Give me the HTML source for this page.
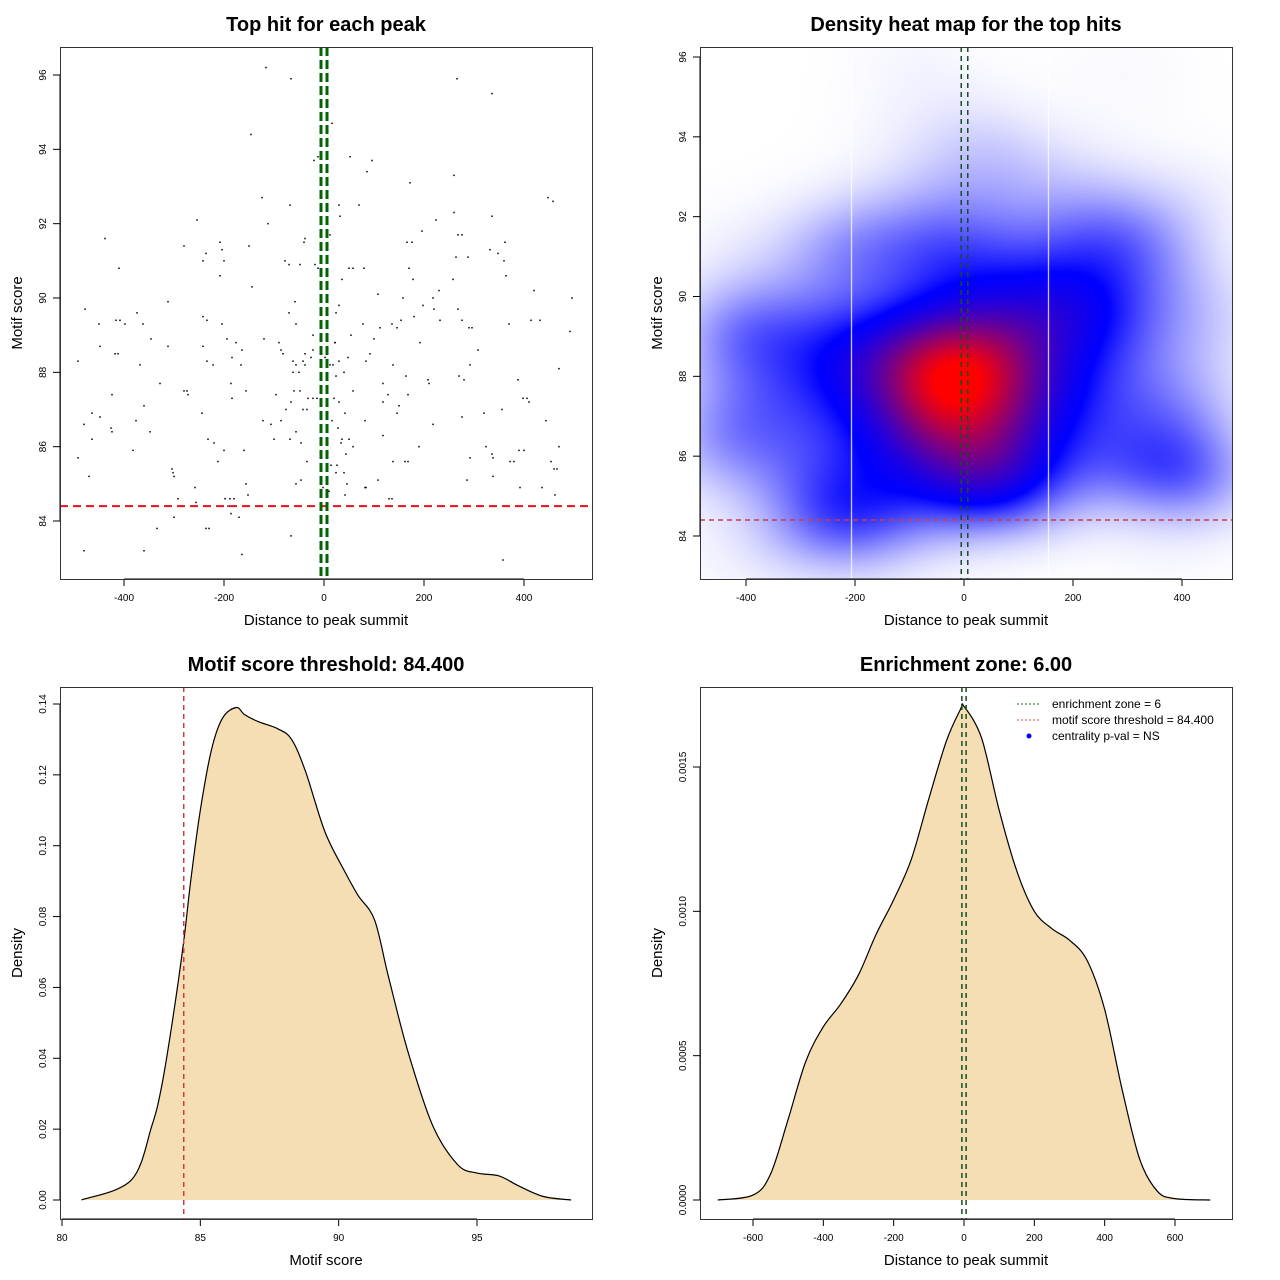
<!DOCTYPE html>
<html><head><meta charset="utf-8">
<style>
html,body{margin:0;padding:0;background:#fff;}
#wrap{position:relative;width:1280px;height:1280px;overflow:hidden;}
#heat{position:absolute;left:700px;top:47px;}
#svg{position:absolute;left:0;top:0;}
text{font-family:"Liberation Sans",sans-serif;fill:#000;}
</style></head>
<body>
<div id="wrap">
<canvas id="heat" width="532" height="532"></canvas>
<svg id="svg" width="1280" height="1280" xmlns="http://www.w3.org/2000/svg"></svg>
</div>
<script>
// ---- data ----
const hitDistance = [-116,-66,-146,266,336,16,-12,52,96,86,-20,172,260,-124,-68,30,70,448,458,-254,-112,32,336,260,224,196,268,276,-438,-280,-150,-208,-38,-40,12,166,176,332,362,-236,-204,-242,-200,-78,-70,-48,-18,-12,50,58,80,170,264,288,348,360,-410,-208,36,258,364,178,-144,108,230,420,-312,-58,158,218,496,30,-478,198,220,268,-374,-242,-234,-70,24,-416,-408,-450,-398,-362,-204,-56,78,136,154,180,232,276,370,414,432,112,146,290,296,-194,-22,-120,-90,22,54,492,-448,-346,-312,-242,-176,-164,-86,-82,-22,22,100,192,308,-418,-412,-38,92,-492,-184,-26,2,48,84,-42,-234,-166,-62,-38,18,30,138,292,-56,12,-368,-222,-62,40,470,-50,24,164,208,270,280,388,210,-186,-328,-280,-274,-272,-424,-156,-96,-60,-48,58,118,-32,-22,-14,20,128,-66,-184,30,118,168,398,406,410,-360,-42,-34,150,146,-76,-244,-464,42,-448,-376,-122,-106,-86,16,82,276,320,356,444,-480,-426,28,218,-424,-348,-56,118,36,-232,50,-464,-100,-220,-68,-46,34,58,190,324,470,-382,-200,-160,390,400,-492,44,336,292,338,372,380,138,162,168,-212,-34,14,26,454,460,466,24,-304,-302,-470,-300,40,108,286,338,-156,46,82,84,392,-46,436,-56,-2,-258,10,-152,42,130,136,462,-292,-198,-188,-180,-256,-192,-186,-300,-170,-236,-230,-334,-66,-480,-360,-164,358];
const hitScore = [96.2,95.9,94.4,95.9,95.5,94.7,93.8,93.8,93.7,93.4,93.7,93.1,93.3,92.7,92.5,92.5,92.5,92.7,92.6,92.1,92.0,92.2,92.2,92.3,92.1,91.8,91.7,91.7,91.6,91.4,91.4,91.5,91.6,91.5,91.7,91.5,91.5,91.3,91.5,91.2,91.3,91.0,91.0,91.0,90.9,90.9,90.9,90.8,90.8,90.8,90.8,90.8,91.1,91.1,91.2,91.0,90.8,90.6,90.5,90.5,90.6,90.5,90.3,90.1,90.2,90.2,89.9,89.9,90.0,90.0,90.0,89.8,89.7,89.8,89.7,89.7,89.6,89.5,89.4,89.6,89.6,89.4,89.4,89.3,89.3,89.3,89.3,89.3,89.3,89.3,89.4,89.5,89.4,89.4,89.3,89.4,89.4,89.2,89.2,89.2,89.2,88.9,89.0,88.9,88.8,88.8,89.0,89.1,88.7,88.9,88.7,88.7,88.8,88.6,88.6,88.5,88.6,88.8,88.9,88.8,88.6,88.5,88.5,88.5,88.5,88.3,88.4,88.4,88.4,88.4,88.3,88.3,88.3,88.2,88.3,88.2,88.2,88.3,88.2,88.2,88.2,88.2,88.2,88.2,88.0,88.0,88.1,88.0,87.9,87.9,87.8,87.9,87.8,87.8,87.7,87.7,87.7,87.5,87.5,87.4,87.4,87.5,87.4,87.5,87.5,87.5,87.7,87.3,87.3,87.3,87.3,87.4,87.2,87.3,87.2,87.2,87.4,87.3,87.3,87.2,87.1,87.0,87.0,87.1,86.9,87.0,86.9,86.9,86.9,86.8,86.7,86.7,86.6,86.7,86.7,86.7,86.8,86.9,87.0,86.7,86.6,86.5,86.5,86.6,86.4,86.4,86.4,86.3,86.2,86.2,86.2,86.2,86.2,86.1,86.2,86.1,86.1,86.0,86.0,86.0,86.0,85.9,85.9,85.9,85.9,85.9,85.7,85.8,85.8,85.7,85.7,85.6,85.6,85.6,85.6,85.6,85.6,85.6,85.5,85.5,85.6,85.4,85.4,85.3,85.4,85.3,85.2,85.2,85.3,85.1,85.1,85.2,85.0,85.0,84.9,84.9,84.9,85.1,84.9,85.0,84.9,84.9,84.8,84.7,84.7,84.6,84.6,84.7,84.6,84.6,84.6,84.6,84.5,84.4,84.2,84.1,84.1,83.8,83.8,83.8,83.6,83.2,83.2,83.1,82.95];
const scoreGrid = [80.7,82.5,83.25,83.6,84.0,84.4,84.65,85.0,85.4,85.8,86.3,86.6,87.1,87.8,88.3,88.8,89.5,90.2,90.7,91.3,91.8,92.5,93.4,94.3,95.0,95.8,96.5,97.4,98.4];
const scoreDensity = [0,0.0056,0.021,0.032,0.051,0.073,0.09,0.11,0.127,0.136,0.139,0.137,0.135,0.133,0.13,0.121,0.104,0.093,0.086,0.079,0.063,0.042,0.021,0.010,0.0076,0.0068,0.004,0.001,0];
const distGrid = [-700,-600,-550,-500,-450,-400,-350,-300,-250,-200,-150,-100,-50,-10,0,50,100,150,200,250,300,350,400,450,500,550,600,700];
const distDensity = [0,0.000017,0.00009,0.00028,0.00048,0.0006,0.00068,0.00078,0.00092,0.00104,0.00118,0.00139,0.00159,0.0017,0.00171,0.0016,0.00135,0.00114,0.001,0.00094,0.0009,0.00083,0.00066,0.00038,0.00014,0.00003,0.000005,0];
const xTicksDist1 = [-400,-200,0,200,400];
const yTicksScore1 = [84,86,88,90,92,94,96];
const xTicksScore = [80,85,90,95];
const yTicksDens3 = [0,0.02,0.04,0.06,0.08,0.10,0.12,0.14];
const yLabels3 = ["0.00","0.02","0.04","0.06","0.08","0.10","0.12","0.14"];
const xTicksDist4 = [-600,-400,-200,0,200,400,600];
const yTicksDens4 = [0,0.0005,0.001,0.0015];
const yLabels4 = ["0.0000","0.0005","0.0010","0.0015"];
const scoreThreshold = 84.4;
const zoneHalf = 6;

const NS="http://www.w3.org/2000/svg";
const svg=document.getElementById('svg');
function mk(tag,attrs,parent){const e=document.createElementNS(NS,tag);for(const k in attrs)e.setAttribute(k,attrs[k]);(parent||svg).appendChild(e);return e;}
function lin(d0,d1,r0,r1){return v=>r0+(v-d0)*(r1-r0)/(d1-d0);}

function panel(p){
  const g=mk('g',{});
  
  
  const t=mk('text',{x:(p.x0+p.x1)/2,y:p.y0-16,'text-anchor':'middle','font-size':'20','font-weight':'bold'},g);
  t.textContent=p.title;
  
  
  const xl=mk('text',{x:(p.x0+p.x1)/2,y:p.y1+46,'text-anchor':'middle','font-size':'15'},g);
  xl.textContent=p.xlab;
  
  
  const cy=(p.y0+p.y1)/2, lx=p.x0-38;
  const yl=mk('text',{x:lx,y:cy,'text-anchor':'middle','font-size':'15',transform:`rotate(-90 ${lx} ${cy})`},g);
  yl.textContent=p.ylab;
  
  
  p.xt.forEach((v,i)=>{const x=p.sx(v);
    const l=mk('line',{x1:x,x2:x,y1:p.y1,y2:p.y1+7,stroke:'#000'},g);
    
    
    const tx=mk('text',{x:x,y:p.y1+22,'text-anchor':'middle','font-size':'10'},g);
    tx.textContent=p.xtl?p.xtl[i]:String(v);
    
    });
  if(p.xt.length){const a=mk('line',{x1:p.sx(p.xt[0]),x2:p.sx(p.xt[p.xt.length-1]),y1:p.y1,y2:p.y1,stroke:'#000'},g);
    
    }
  p.yt.forEach((v,i)=>{const y=p.sy(v);
    const l=mk('line',{x1:p.x0-7,x2:p.x0,y1:y,y2:y,stroke:'#000'},g);
    
    
    const tx=mk('text',{x:p.x0-14,y:y,'text-anchor':'middle','font-size':'10',transform:`rotate(-90 ${p.x0-14} ${y})`},g);
    tx.textContent=p.ytl?p.ytl[i]:String(v);
    
    });
  const a2=mk('line',{x1:p.x0,x2:p.x0,y1:p.sy(p.yt[0]),y2:p.sy(p.yt[p.yt.length-1]),stroke:'#000'},g);
  
  
  return g;
}
function box(p,g){const b=mk('rect',{x:p.x0+0.5,y:p.y0+0.5,width:p.x1-p.x0,height:p.y1-p.y0,fill:'none',stroke:'#333'},g);
  
  }

// ---- Panel 1: scatter ----
const P1={name:'scatter-panel',x0:60,x1:592,y0:47,y1:579,sx:lin(0,400,324,524),sy:lin(84,96,521,75),title:'Top hit for each peak',xlab:'Distance to peak summit',ylab:'Motif score',xt:xTicksDist1,yt:yTicksScore1};
const g1=panel(P1);
hitDistance.forEach((d,i)=>{const c=mk('rect',{x:P1.sx(d)-0.75,y:P1.sy(hitScore[i])-0.75,width:1.5,height:1.5,fill:'#000'},g1);
  
  });
let l=mk('line',{x1:P1.x0,x2:P1.x1,y1:P1.sy(scoreThreshold),y2:P1.sy(scoreThreshold),stroke:'#e8121b','stroke-width':2,'stroke-dasharray':'8,5'},g1);


[-zoneHalf,zoneHalf].forEach(v=>{const z=mk('line',{x1:P1.sx(v),x2:P1.sx(v),y1:P1.y0,y2:P1.y1,stroke:'#006400','stroke-width':3,'stroke-dasharray':'9,4'},g1);
  
  });
box(P1,g1);

// ---- Panel 2: heat map ----
const P2={name:'heatmap-panel',x0:700,x1:1232,y0:47,y1:579,sx:lin(0,400,964,1182),sy:lin(84,96,536,57),title:'Density heat map for the top hits',xlab:'Distance to peak summit',ylab:'Motif score',xt:xTicksDist1,yt:yTicksScore1};
const g2=panel(P2);
(function(){
  const cv=document.getElementById('heat'),ctx=cv.getContext('2d');
  const W=532,H=532,step=2,bx=95,by=0.95;
  const dens=[];let mx=0;
  for(let j=0;j<H;j+=step){const row=[];const yv=84+(536-(47+j+1))*12/479;
    for(let i=0;i<W;i+=step){const xv=(700+i+1-964)*400/218;let s=0;
      for(let k=0;k<hitDistance.length;k++){const dx=(xv-hitDistance[k])/bx,dy=(yv-hitScore[k])/by;s+=Math.exp(-0.5*(dx*dx+dy*dy));}
      row.push(s);if(s>mx)mx=s;}
    dens.push(row);}
  const img=ctx.createImageData(W,H);
  for(let j=0;j<H;j++)for(let i=0;i<W;i++){const t=dens[Math.floor(j/step)][Math.floor(i/step)]/mx;
    let r,gg,b;const t0=0.5;
    if(t<t0){const u=Math.pow(t/t0,1.6);r=255*(1-u);gg=255*(1-u);b=255;}
    else{const u=Math.min(1,Math.pow((t-t0)/(0.97-t0),1.3));r=255*u;gg=0;b=255*(1-u);}
    const o=(j*W+i)*4;img.data[o]=r;img.data[o+1]=gg;img.data[o+2]=b;img.data[o+3]=255;}
  ctx.putImageData(img,0,0);
  ctx.fillStyle='#fff';ctx.fillRect(151,0,1,H);ctx.fillRect(348,0,1,H);
})();
l=mk('line',{x1:P2.x0,x2:P2.x1,y1:P2.sy(scoreThreshold),y2:P2.sy(scoreThreshold),stroke:'#cd3a45','stroke-width':1.5,'stroke-dasharray':'5,4'},g2);


[-zoneHalf,zoneHalf].forEach(v=>{const z=mk('line',{x1:P2.sx(v)+0.5,x2:P2.sx(v)+0.5,y1:P2.y0,y2:P2.y1,stroke:'#14501e','stroke-width':1.5,'stroke-dasharray':'5,4'},g2);
  
  });
box(P2,g2);

// ---- Panel 3: score density ----
const P3={name:'score-density-panel',x0:60,x1:592,y0:687,y1:1219,sx:lin(80,95,62,477),sy:lin(0,0.14,1200,704),title:'Motif score threshold: 84.400',xlab:'Motif score',ylab:'Density',xt:xTicksScore,yt:yTicksDens3,ytl:yLabels3};
const g3=panel(P3);
function smoothPath(pts){
  let d='M'+pts[0][0].toFixed(1)+','+pts[0][1].toFixed(1);
  for(let i=0;i<pts.length-1;i++){
    const p0=pts[i-1]||pts[i],p1=pts[i],p2=pts[i+1],p3=pts[i+2]||p2;
    const c1=[p1[0]+(p2[0]-p0[0])/6,p1[1]+(p2[1]-p0[1])/6];
    const c2=[p2[0]-(p3[0]-p1[0])/6,p2[1]-(p3[1]-p1[1])/6];
    d+=` C${c1[0].toFixed(1)},${c1[1].toFixed(1)} ${c2[0].toFixed(1)},${c2[1].toFixed(1)} ${p2[0].toFixed(1)},${p2[1].toFixed(1)}`;
  }
  return d;
}
function curve(p,g,xs,ys,name){
  const pts=xs.map((v,i)=>[p.sx(v),p.sy(ys[i])]);
  const d=smoothPath(pts);
  const f=mk('path',{d:d+' Z',fill:'#f5deb3',stroke:'none'},g);
  
  
  const c=mk('path',{d:d,fill:'none',stroke:'#000','stroke-width':1.2,'stroke-linejoin':'round'},g);
  
  
}
curve(P3,g3,scoreGrid,scoreDensity,'score-density');
l=mk('line',{x1:P3.sx(scoreThreshold),x2:P3.sx(scoreThreshold),y1:P3.y0,y2:P3.y1,stroke:'#cd3a45','stroke-width':1.5,'stroke-dasharray':'5,4'},g3);


box(P3,g3);

// ---- Panel 4: distance density ----
const P4={name:'distance-density-panel',x0:700,x1:1232,y0:687,y1:1219,sx:lin(0,600,964,1175),sy:lin(0,0.0015,1200,767),title:'Enrichment zone: 6.00',xlab:'Distance to peak summit',ylab:'Density',xt:xTicksDist4,yt:yTicksDens4,ytl:yLabels4};
const g4=panel(P4);
curve(P4,g4,distGrid,distDensity,'distance-density');
[-zoneHalf,zoneHalf].forEach(v=>{const z=mk('line',{x1:P4.sx(v),x2:P4.sx(v),y1:P4.y0,y2:P4.y1,stroke:'#14501e','stroke-width':1.5,'stroke-dasharray':'5,4'},g4);
  
  });
box(P4,g4);
const leg=mk('g',{},g4);


const legItems=[['enrichment zone = 6','#1a7a1a','line'],['motif score threshold = 84.400','#e05050','line'],['centrality p-val = NS','#0000ff','dot']];
legItems.forEach((it,i)=>{const y=704+i*16;
  if(it[2]==='line'){const s=mk('line',{x1:1017,x2:1041,y1:y,y2:y,stroke:it[1],'stroke-width':1,'stroke-dasharray':'2,2'},leg);
    
    }
  else{const s=mk('circle',{cx:1029,cy:y,r:2.5,fill:it[1]},leg);
    
    }
  const t=mk('text',{x:1052,y:y+4,'font-size':'12'},leg);
  t.textContent=it[0];
  
  });
</script>
</body></html>
